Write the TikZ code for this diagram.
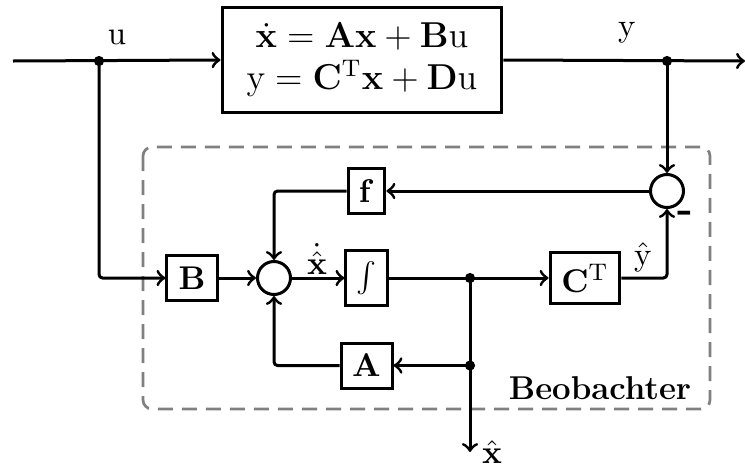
\documentclass[tikz,border=0pt]{standalone}
\begin{document}
\begin{tikzpicture}[x=0.3333pt,y=-0.3333pt, line width=1pt, >=to,
  every node/.style={font=\fontsize{11}{13}\selectfont},
  blk/.style={draw, line width=1pt, inner sep=0pt, fill=white},
  sumc/.style={draw, circle, inner sep=0pt, minimum size=11pt, line width=1pt},
  lbl/.style={inner sep=0pt},
  rc/.style={rounded corners=1.2pt}]
\useasboundingbox (0,0) rectangle (745,467);
% observer frame
\draw[gray, line width=0.9pt, dash pattern=on 5pt off 3pt, rounded corners=3pt] (143,147) rectangle (710,409);
\node[lbl, anchor=base] (beo) at (600,399) {\bfseries Beobachter};
% system
\node[blk, minimum width=93.3pt, minimum height=34.7pt, align=center,
  font=\fontsize{11.7}{14}\selectfont] (sys) at (362,60)
  {$\dot{\mathbf{x}}=\mathbf{A}\mathbf{x}+\mathbf{B}\mathrm{u}$\\
   $\mathrm{y}=\mathbf{C}^{\mathrm{T}}\mathbf{x}+\mathbf{D}\mathrm{u}$};
\coordinate (in) at (13,61);
\coordinate (ju) at (99,61);
\coordinate (jy) at (667,61);
\coordinate (out) at (745,61);
\node[lbl] (ulab) at (117,37) {$\mathrm{u}$};
\node[lbl] (ylab) at (627,33) {$\mathrm{y}$};
% blocks
\node[sumc] (s1) at (667,191) {};
\node[blk, minimum width=12.3pt, minimum height=14.7pt] (f) at (366.5,191) {$\mathbf{f}$};
\node[sumc] (s2) at (274,278) {};
\node[blk, minimum width=16.7pt, minimum height=15pt] (B) at (192,278) {$\mathbf{B}$};
\node[blk, minimum width=13.7pt, minimum height=18.3pt] (int) at (366.5,278) {$\int$};
\node[blk, minimum width=23.3pt, minimum height=16.7pt] (C) at (585,278) {$\mathbf{C}^{\mathrm{T}}$};
\node[blk, minimum width=17pt, minimum height=15pt] (A) at (366.5,365.5) {$\mathbf{A}$};
\coordinate (jx1) at (470,278);
\coordinate (jx2) at (470,365.5);
\coordinate (xo) at (470,452);
% labels
\node[lbl] (xdl) at (317,259) {$\dot{\hat{\mathbf{x}}}$};
\node[lbl] (yhl) at (643,257) {$\hat{\mathrm{y}}$};
\node[lbl, font=\fontsize{14}{16}\selectfont] (minus) at (685,217) {\bfseries -};
\node[lbl] (xhl) at (492,452) {$\hat{\mathbf{x}}$};
% connectors
\draw[->] (in) -- (sys.west);
\draw[->] (sys.east) -- (out);
\draw[->, rc] (ju) |- (B.west);
\draw[->] (jy) -- (s1.north);
\draw[->] (s1.west) -- (f.east);
\draw[->, rc] (f.west) -| (s2.north);
\draw[->] (B.east) -- (s2.west);
\draw[->] (s2.east) -- (int.west);
\draw[->] (int.east) -- (C.west);
\draw[->, rc] (C.east) -| (s1.south);
\draw[->] (jx1) -- (xo);
\draw[->] (jx2) -- (A.east);
\draw[->, rc] (A.west) -| (s2.south);
% junction dots
\foreach \p in {ju,jy,jx1,jx2} \fill (\p) circle (1.7pt);
\end{tikzpicture}
\end{document}
